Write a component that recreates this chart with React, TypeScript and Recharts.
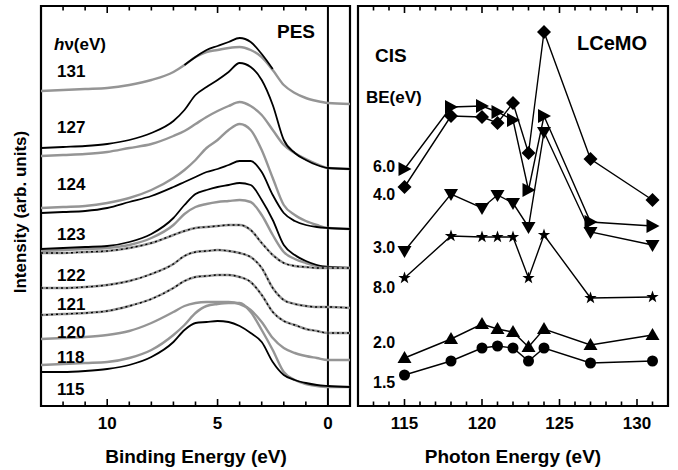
import React from "react"
import { LineChart, Line, XAxis, YAxis, ReferenceLine, ReferenceArea } from "recharts"

// ---- PES panel (left) ----
const bindingEnergy = [13, 12, 11, 10, 9, 8, 7, 6.5, 6, 5.5, 5, 4.5, 4, 3.5, 3, 2.5, 2, 1.5, 1, 0.5, 0, -1]

const pes131Gray = [315, 316, 317, 318, 321, 326, 334, 341, 349, 354, 356, 358, 359, 356, 349, 336, 321, 313, 308, 305, 303, 302]
const pes131Black = [null, null, null, null, null, null, null, 341, 349, 356, 360, 364, 368, 364, 352, 337, null, null, null, null, null, null]
const pes127Black = [258, 259, 260, 262, 266, 273, 285, 296, 311, 319, 326, 334, 343, 339, 326, 301, 266, 253, 246, 241, 238, 237]
const pes127Gray = [250, 251, 252, 254, 258, 262, 270, 275, 282, 289, 295, 300, 304, 300, 291, 276, 261, 253, 247, 242, 238, 237]
const pes124Gray = [198, 199, 200, 203, 208, 216, 228, 236, 246, 258, 266, 276, 282, 276, 256, 228, 201, 191, 185, 181, 178, 177]
const pes124Black = [193, 194, 195, 198, 204, 210, 219, 224, 229, 234, 237, 241, 245, 245, 234, 211, 193, 185, 181, 179, 178, 177]
const pes123Black = [157, 158, 159, 160, 164, 172, 188, 201, 212, 216, 219, 221, 223, 221, 206, 186, 161, 151, 145, 141, 139, 138]
const pes123Gray = [155, 156, 157, 158, 161, 168, 181, 192, 199, 202, 204, 205, 206, 204, 191, 171, 154, 147, 143, 140, 139, 138]
const pes123Mixed = [153, 153, 154, 155, 158, 163, 171, 175, 178, 179, 180, 181, 181, 176, 163, 151, 143, 140, 139, 138, 138, 138]
const pes122 = [118, 118, 119, 121, 125, 132, 142, 150, 154, 155, 156, 155, 153, 149, 138, 118, 106, 102, 100, 99, 99, 98]
const pes121 = [91, 92, 93, 95, 100, 107, 118, 125, 129, 130, 131, 131, 129, 124, 111, 94, 85, 81, 77, 75, 73, 73]
const pes120 = [67, 68, 69, 71, 75, 83, 94, 100, 103, 104, 104, 104, 102, 96, 84, 68, 58, 53, 50, 48, 46, 46]
const pes118 = [41, 42, 43, 44, 48, 56, 71, 81, 93, 100, 102, 103, 103, 94, 76, 56, 34, 26, 22, 20, 19, 19]
const pes115 = [34, 34, 35, 37, 41, 49, 64, 76, 83, 84, 85, 84, 80, 73, 64, 44, 31, 26, 23, 21, 20, 19]

const hvLabels = ["131", "127", "124", "123", "122", "121", "120", "118", "115"]
const beTicks = [0, 1, 2, 3, 4, 5, 6, 7, 8, 9, 10, 11, 12]

// ---- CIS panel (right) ----
const photonEnergy = [115, 118, 120, 121, 122, 123, 124, 127, 131]
const cis40 = [219, 290, 289, 283, 303, 253, 374, 247, 206]
const cis60 = [237, 299, 300, 294, 286, 216, 290, 184, 180]
const cis30 = [155, 212, 198, 211, 203, 179, 274, 174, 161]
const cis80 = [128, 170, 169, 169, 169, 128, 171, 108, 109]
const cis20 = [48, 67, 82, 77, 74, 59, 77, 61, 71]
const cis15 = [31, 45, 58, 60, 58, 45, 58, 43, 45]
const cisLabels = ["6.0", "4.0", "3.0", "8.0", "2.0", "1.5"]
const peTicks = [113, 114, 115, 116, 117, 118, 119, 120, 121, 122, 123, 124, 125, 126, 127, 128, 129, 130, 131]

const FONT = "'Liberation Sans', Arial, Helvetica, sans-serif"
const GRAY = "#959595"
const Y_MAX = 400

const pesCurves = [
  { key: "s131g", values: pes131Gray, kind: "gray" },
  { key: "s131b", values: pes131Black, kind: "black" },
  { key: "s127g", values: pes127Gray, kind: "gray" },
  { key: "s127b", values: pes127Black, kind: "black" },
  { key: "s124g", values: pes124Gray, kind: "gray" },
  { key: "s124b", values: pes124Black, kind: "black" },
  { key: "s123g", values: pes123Gray, kind: "gray" },
  { key: "s123b", values: pes123Black, kind: "black" },
  { key: "s123m", values: pes123Mixed, kind: "mixed" },
  { key: "s122", values: pes122, kind: "mixed" },
  { key: "s121", values: pes121, kind: "mixed" },
  { key: "s120", values: pes120, kind: "gray" },
  { key: "s118", values: pes118, kind: "gray" },
  { key: "s115", values: pes115, kind: "black" },
]

const pesData = bindingEnergy.map((be, i) => {
  const row: any = { be }
  pesCurves.forEach((c) => (row[c.key] = c.values[i]))
  return row
})

const cisSeries = [
  { key: "d40", values: cis40, shape: "diamond" },
  { key: "d60", values: cis60, shape: "right" },
  { key: "d30", values: cis30, shape: "down" },
  { key: "d80", values: cis80, shape: "star" },
  { key: "d20", values: cis20, shape: "up" },
  { key: "d15", values: cis15, shape: "circle" },
]

const cisData = photonEnergy.map((pe, i) => {
  const row: any = { pe }
  cisSeries.forEach((s) => (row[s.key] = s.values[i]))
  return row
})

function MajorLabel({ x, y, payload }: any) {
  if (payload.value % 5 !== 0) return <g />
  return (
    <text x={x} y={y + 23} textAnchor="middle" fontFamily={FONT} fontWeight="bold" fontSize={17} fill="#000">
      {payload.value}
    </text>
  )
}

// inward ticks on top and bottom, drawn as short segments in data space
function inwardTicks(ticks: number[], skip: number[] = []) {
  return ticks
    .filter((t) => !skip.includes(t))
    .flatMap((t) => {
      const len = t % 5 === 0 ? 7 : 4.5
      return [
        <ReferenceLine key={`b${t}`} segment={[{ x: t, y: 0 }, { x: t, y: len }]} stroke="#000" strokeWidth={1.6} ifOverflow="visible" />,
        <ReferenceLine key={`t${t}`} segment={[{ x: t, y: Y_MAX - len }, { x: t, y: Y_MAX }]} stroke="#000" strokeWidth={1.6} ifOverflow="visible" />,
      ]
    })
}

function Marker({ cx, cy, shape }: any) {
  if (cx == null || cy == null) return null
  if (shape === "circle") return <circle cx={cx} cy={cy} r={5.5} fill="#000" />
  let pts: number[][] = []
  if (shape === "diamond") pts = [[0, -7], [7, 0], [0, 7], [-7, 0]]
  if (shape === "right") pts = [[-6, -7], [7, 0], [-6, 7]]
  if (shape === "down") pts = [[-7, -5], [7, -5], [0, 7]]
  if (shape === "up") pts = [[-7, 5], [7, 5], [0, -7]]
  if (shape === "star") {
    for (let k = 0; k < 10; k++) {
      const r = k % 2 === 0 ? 6.5 : 2.6
      const a = (Math.PI / 5) * k - Math.PI / 2
      pts.push([r * Math.cos(a), r * Math.sin(a)])
    }
  }
  return <polygon points={pts.map((p) => `${cx + p[0]},${cy + p[1]}`).join(" ")} fill="#000" />
}

function PesPanel() {
  return (
    <LineChart width={360} height={470} data={pesData} margin={{ top: 6, right: 10, bottom: 34, left: 41 }}>
      <XAxis dataKey="be" type="number" domain={[-1, 13]} reversed ticks={beTicks} interval={0}
        tickSize={0} tickMargin={0} axisLine={false} tickLine={false} tick={<MajorLabel />} height={30} />
      <YAxis domain={[0, Y_MAX]} width={0} tick={false} tickLine={false} axisLine={false} />
      <ReferenceArea x1={-1} x2={13} y1={0} y2={Y_MAX} fill="none" stroke="#000" strokeWidth={2.2} ifOverflow="visible" />
      <ReferenceLine x={0} stroke="#000" strokeWidth={2} />
      {inwardTicks(beTicks, [0])}
      {pesCurves.map((c) =>
        c.kind === "black" ? (
          <Line key={c.key} dataKey={c.key} type="monotone" stroke="#000" strokeWidth={1.8} dot={false} isAnimationActive={false} />
        ) : (
          <Line key={c.key} dataKey={c.key} type="monotone" stroke={GRAY} strokeWidth={2.4} dot={false} isAnimationActive={false} />
        )
      )}
      {pesCurves.filter((c) => c.kind === "mixed").map((c) => (
        <Line key={c.key + "-dots"} dataKey={c.key} type="monotone" stroke="#000" strokeWidth={1.4}
          strokeDasharray="2 3" dot={false} isAnimationActive={false} />
      ))}
    </LineChart>
  )
}

function CisPanel() {
  return (
    <LineChart width={328} height={470} data={cisData} margin={{ top: 6, right: 10, bottom: 34, left: 8 }}>
      <XAxis dataKey="pe" type="number" domain={[112, 132]} ticks={peTicks} interval={0}
        tickSize={0} tickMargin={0} axisLine={false} tickLine={false} tick={<MajorLabel />} height={30} />
      <YAxis domain={[0, Y_MAX]} width={0} tick={false} tickLine={false} axisLine={false} />
      <ReferenceArea x1={112} x2={132} y1={0} y2={Y_MAX} fill="none" stroke="#000" strokeWidth={2.2} ifOverflow="visible" />
      {inwardTicks(peTicks)}
      {cisSeries.map((s) => (
        <Line key={s.key} dataKey={s.key} type="linear" stroke="#000" strokeWidth={1.4} isAnimationActive={false}
          dot={(p: any) => <Marker key={`${s.key}-${p.index}`} cx={p.cx} cy={p.cy} shape={s.shape} />} />
      ))}
    </LineChart>
  )
}

const hvLabelY = [77, 133, 190, 240, 281, 310, 338, 363, 395]
const cisLabelY = [172, 200, 253, 293, 348, 388]

export default function App() {
  const txt = { fontFamily: FONT, fontWeight: "bold" as const, fill: "#000" }
  return (
    <div style={{ position: "absolute", left: 0, top: 0, width: 678, height: 470, background: "#fff" }}>
      <div style={{ position: "absolute", left: 0, top: 0 }}>
        <PesPanel />
      </div>
      <div style={{ position: "absolute", left: 350, top: 0 }}>
        <CisPanel />
      </div>
      <svg width={678} height={470} style={{ position: "absolute", left: 0, top: 0, pointerEvents: "none" }}>
        <text x={54} y={50} fontSize={17} {...txt}>
          <tspan fontStyle="italic">h</tspan>
          <tspan>ν(eV)</tspan>
        </text>
        <text x={277} y={38} fontSize={19} {...txt}>PES</text>
        {hvLabels.map((t, i) => (
          <text key={t} x={57} y={hvLabelY[i]} fontSize={17} {...txt}>{t}</text>
        ))}
        <text x={375} y={62} fontSize={19} {...txt}>CIS</text>
        <text x={577} y={50} fontSize={20} {...txt}>LCeMO</text>
        <text x={366} y={103} fontSize={17} {...txt}>BE(eV)</text>
        {cisLabels.map((t, i) => (
          <text key={t} x={373} y={cisLabelY[i]} fontSize={16} {...txt}>{t}</text>
        ))}
        <text x={196} y={463} fontSize={19} textAnchor="middle" {...txt}>Binding Energy (eV)</text>
        <text x={513} y={463} fontSize={19} textAnchor="middle" {...txt}>Photon Energy (eV)</text>
        <text transform="translate(26,212) rotate(-90)" fontSize={17} textAnchor="middle" {...txt}>Intensity (arb. units)</text>
      </svg>
    </div>
  )
}
